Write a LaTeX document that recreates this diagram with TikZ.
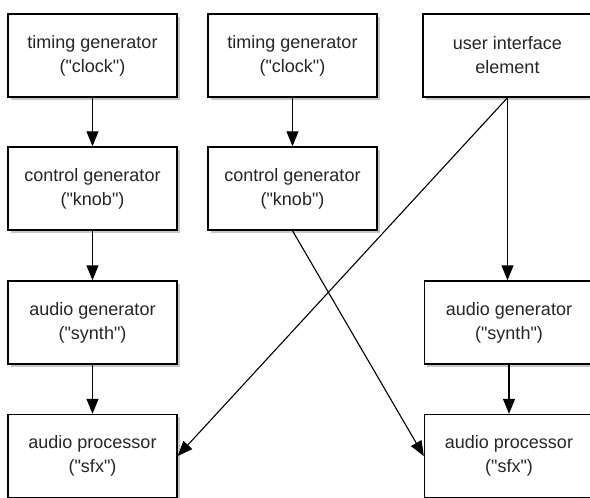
\documentclass[tikz,border=0pt]{standalone}
\usepackage{fontspec}
\setmainfont{Liberation Sans}[Ligatures = TeXOff]
\usetikzlibrary{arrows.meta, shadows}

\begin{document}
\begin{tikzpicture}[%
        x = 1pt,
        y = -1pt,
        line width = 1.1pt,
        > = {Triangle[length = 15pt, width = 12pt]},
        unit/.style = {
            draw,
            line width = 1.4pt,
            fill = white,
            minimum width = 169pt,
            minimum height = 83pt,
            inner sep = 0pt,
            align = center,
            text = black!85,
            font = \fontsize{18}{24}\selectfont,
            drop shadow = {shadow xshift = 2.5pt, shadow yshift = -2.5pt,
                opacity = 0.22, fill = black},
        },
    ]

        % Size of the page.
        \useasboundingbox (0, 0) rectangle (590, 498);

        % Left chain.
        \node (clockA) at (92.5, 55.5) [unit] {timing generator\\("clock")};
        \node (knobA) at (92.5, 188.5) [unit] {control generator\\("knob")};
        \node (synthA) at (92.5, 322.5) [unit] {audio generator\\("synth")};
        \node (sfxA) at (92.5, 456.0) [unit] {audio processor\\("sfx")};

        % Middle column.
        \node (clockB) at (292.5, 55.5) [unit] {timing generator\\("clock")};
        \node (knobB) at (292.5, 188.5) [unit] {control generator\\("knob")};

        % Right column.
        \node (ui) at (507.5, 55.5) [unit] {user interface\\element};
        \node (synthC) at (509.0, 322.5) [unit] {audio generator\\("synth")};
        \node (sfxC) at (509.0, 456.0) [unit] {audio processor\\("sfx")};

        % Draw the connections.
        \begin{scope}[->]
            \draw (clockA) to (knobA);
            \draw (knobA) to (synthA);
            \draw (synthA) to (sfxA);
            \draw (clockB) to (knobB);
            \draw (knobB.south) to (sfxC.west);
            \draw (ui.south) to (sfxA.east);
            \draw (ui.south) to (ui.south |- synthC.north);
            \draw (synthC) to (sfxC);
        \end{scope}
    \end{tikzpicture}
\end{document}
